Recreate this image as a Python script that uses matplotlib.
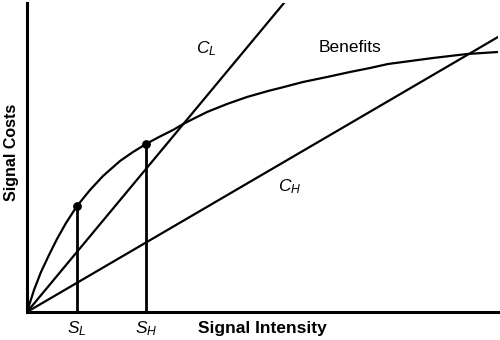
import numpy as np
import matplotlib
matplotlib.use("Agg")
import matplotlib.pyplot as plt

plt.rcParams["font.family"] = ["Liberation Sans", "DejaVu Sans"]
plt.rcParams["mathtext.fontset"] = "custom"
plt.rcParams["mathtext.rm"] = "Liberation Sans"
plt.rcParams["mathtext.it"] = "Liberation Sans:italic"

# benefits curve (concave, rises fast then levels off)
benefit_x = [0, 7, 14, 22, 30, 39, 50, 63, 76, 93, 106, 119, 132, 146, 158, 180,
             200, 220, 241, 253, 276, 300, 323, 343, 361, 406, 440, 471]
benefit_y = [0, 22, 40, 57, 73, 89, 106, 122, 136, 151, 160, 168, 175, 182, 189, 200,
             208, 215, 221, 224, 230, 235, 240, 244, 248, 254, 258, 260]

# linear cost lines through the origin
cost_low_x = [0, 257]
cost_low_y = [0, 309]
cost_high_x = [0, 471]
cost_high_y = [0, 275]

# optimal signal intensities and the benefit reached there
signal_x = [50, 119]
signal_y = [106, 168]
signal_labels = ["$S_L$", "$S_H$"]

fig = plt.figure(figsize=(5, 3.4), dpi=100)
ax = fig.add_axes([27 / 500, 28 / 340, 471 / 500, 309 / 340])

lw = 1.6
ax.plot(benefit_x, benefit_y, color="black", lw=lw, solid_joinstyle="round")
ax.plot(cost_low_x, cost_low_y, color="black", lw=lw)
ax.plot(cost_high_x, cost_high_y, color="black", lw=lw)
ax.vlines(signal_x, 0, signal_y, color="black", lw=2.0)
ax.scatter(signal_x, signal_y, s=28, color="black", zorder=3)

ax.text(179, 263, "$C_L$", fontsize=12.5, ha="center", va="center")
ax.text(323, 265, "Benefits", fontsize=12.5, ha="center", va="center")
ax.text(263, 125, "$C_H$", fontsize=12.5, ha="center", va="center")

ax.set_xlim(0, 471)
ax.set_ylim(0, 309)
ax.set_xticks(signal_x, signal_labels, fontsize=12.5)
ax.tick_params(axis="x", length=0, pad=5)
ax.set_yticks([])
ax.set_xlabel("Signal Intensity", fontsize=12.5, fontweight="bold", labelpad=-12)
ax.set_ylabel("Signal Costs", fontsize=11.5, fontweight="bold")
ax.yaxis.set_label_coords(-0.018, 0.518)

for side in ["top", "right"]:
    ax.spines[side].set_visible(False)
for side in ["left", "bottom"]:
    ax.spines[side].set_linewidth(2.2)

fig.savefig("out.png", dpi=100)
